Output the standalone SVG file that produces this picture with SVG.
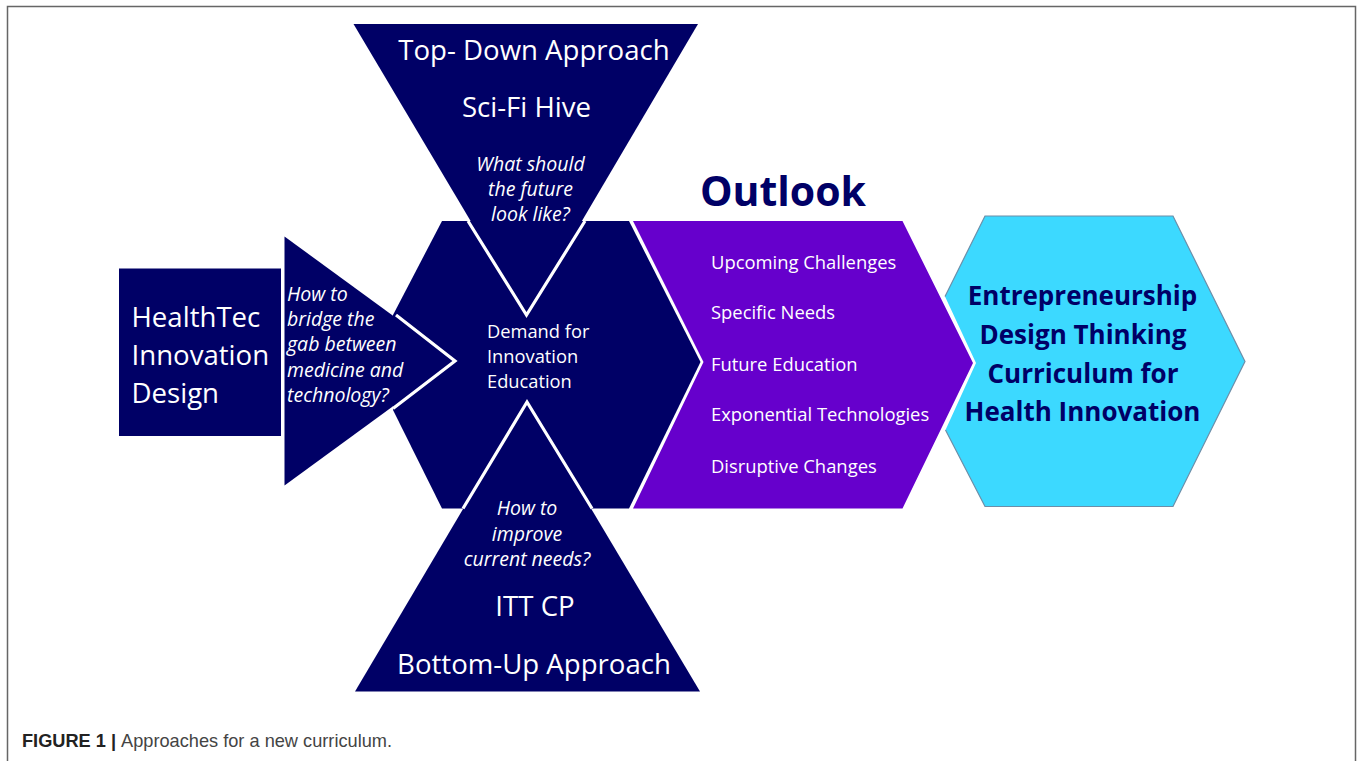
<svg xmlns="http://www.w3.org/2000/svg" width="1358" height="761" viewBox="0 0 1358 761">
<style>
text{font-family:"Open Sans","Noto Sans","Liberation Sans",sans-serif;fill:#fff}
.navy{fill:#000066}
.w{stroke:#fff;stroke-width:3.2}
.big{font-size:27.6px}
.mid{font-size:18.3px}
.it{font-size:19.5px;font-style:italic}
.li{font-size:18.4px}
.dk{fill:#000066;font-weight:700}
</style>
<rect width="1358" height="761" fill="#fff"/>
<path d="M7.500 761V6.500H1355.500V761" fill="none" stroke="#666" stroke-width="1.500"/>
<g id="connectors"></g>
<g id="node-health"><rect x="119" y="268.500" width="162" height="167.500" class="navy"/>
<text class="big" x="131.500" y="326.500">HealthTec</text><text class="big" x="131.500" y="364.500">Innovation</text><text class="big" x="131.500" y="402.500">Design</text></g>
<g id="node-demand"><polygon points="442,221 629,221 700.500,362 629,508.500 442,508.500 393,410 393,315" class="navy"/>
<text class="mid" x="487" y="337.500">Demand for</text><text class="mid" x="487" y="363">Innovation</text><text class="mid" x="487" y="388">Education</text></g>
<g id="node-question"><polygon points="284.500,236.500 455,361 284.500,485.500" class="navy"/>
<polyline points="396,315 455,361 393,408.500" fill="none" class="w"/>
<g class="it"><text x="287" y="300.500">How to</text><text x="287" y="326">bridge the</text><text x="287" y="351">gab between</text><text x="287" y="377">medicine and</text><text x="287" y="402">technology?</text></g></g>
<g id="node-top"><polygon points="353.500,24 698,24 526.500,315" class="navy"/>
<polyline points="468,221 526.500,315 585,221" fill="none" class="w"/>
<text class="big" x="534" y="59.500" text-anchor="middle">Top- Down Approach</text><text class="big" x="526.500" y="117" text-anchor="middle">Sci-Fi Hive</text>
<g class="it" text-anchor="middle"><text x="530.500" y="170.500">What should</text><text x="530.500" y="196">the future</text><text x="530.500" y="221">look like?</text></g></g>
<g id="node-bottom"><polygon points="355,691.500 700,691.500 527,401" class="navy"/>
<polyline points="463,508.500 527,402 592,508.500" fill="none" class="w"/>
<g class="it" text-anchor="middle"><text x="527" y="515">How to</text><text x="527" y="541">improve</text><text x="527" y="566">current needs?</text></g>
<text class="big" x="535" y="615.500" text-anchor="middle">ITT CP</text><text class="big" x="534" y="674" text-anchor="middle">Bottom-Up Approach</text></g>
<g id="node-outlook"><polygon points="633,221 902.500,221 973,363 902.500,508.500 633,508.500 703.500,362" fill="#6600cc"/>
<text x="783" y="206" text-anchor="middle" style="fill:#000066;font-size:41px;font-weight:700">Outlook</text>
<g class="li"><text x="711" y="269">Upcoming Challenges</text><text x="711" y="319">Specific Needs</text><text x="711" y="371">Future Education</text><text x="711" y="421">Exponential Technologies</text><text x="711" y="473">Disruptive Changes</text></g></g>
<g id="node-result"><polygon points="985,216 1173,216 1245,361.500 1173,506.500 985,506.500 945.500,430 976,363 945,296.500" fill="#3cd9ff"/>
<polyline points="945.500,430 985,506.500 1173,506.500 1245,361.500 1173,216 985,216 945,296.500" fill="none" stroke="#6c8ea8" stroke-width="1.200"/>
<g text-anchor="middle" style="font-size:26px"><text class="dk" x="1082.500" y="305">Entrepreneurship</text><text class="dk" x="1083" y="344">Design Thinking</text><text class="dk" x="1083" y="382.500">Curriculum for</text><text class="dk" x="1082.500" y="420.500">Health Innovation</text></g></g>
<text x="22" y="747" style="font-family:'Liberation Sans',Arial,sans-serif;font-size:18.200px;fill:#444"><tspan font-weight="700" style="fill:#222">FIGURE 1 | </tspan>Approaches for a new curriculum.</text>
</svg>
